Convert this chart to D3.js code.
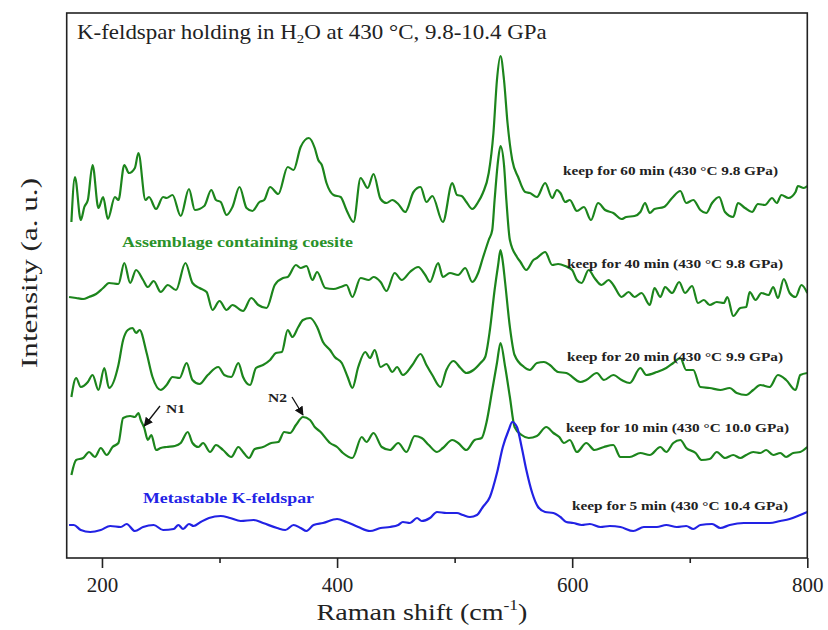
<!DOCTYPE html>
<html>
<head>
<meta charset="utf-8">
<script src="https://cdn.jsdelivr.net/npm/d3@7"></script>
<style>
  html, body { margin: 0; padding: 0; background: #ffffff; }
  svg { display: block; font-family: "Liberation Serif", "Times New Roman", serif; }
</style>
</head>
<body>
<svg id="chart" width="828" height="630"></svg>
<script>
// ---- Data (Raman shift in cm-1, intensity in arbitrary stacked units) ----
const xTicks = [200, 400, 600, 800];
const xMinorTicks = [300, 500, 700];

const s60x = [174,177,182,185,188,192,197,201,205,211,214,219,223,228,231,237,240,246,252,255,260,267,274,279,287,293,297,301,306,311,317,323,328,334,338,343,350,358,363,369,376,381,384,387,391,397,403,408,414,420,426,431,437,442,447,452,458,465,471,476,481,490,498,502,506,510,515,520,524,529,533,536,539,542,545,549,554,560,564,570,577,583,587,590,594,598,604,610,616,622,628,635,642,646,653,658,662,666,670,678,685,692,697,703,709,714,719,725,730,737,741,747,753,758,764,770,774,778,784,790,792,797,800];
const s60y = [336,381,338,351,358,393,350,361,339,361,358,393,385,390,405,358,361,349,361,360,363,342,369,348,352,368,358,356,343,351,371,350,347,356,358,371,364,391,388,411,420,410,398,393,375,363,361,348,336,380,370,384,359,355,358,354,346,366,371,356,362,336,375,363,362,356,349,356,365,385,425,478,502,478,435,398,381,366,365,361,375,360,368,365,356,358,347,351,338,355,348,345,339,341,342,346,355,345,349,351,360,367,355,358,348,345,355,361,346,341,355,350,346,354,353,360,355,363,360,366,372,370,372];

const s40x = [172,178,184,189,195,201,206,214,219,224,229,235,239,244,250,256,263,271,277,283,289,294,300,306,311,320,327,333,340,347,354,358,365,369,374,379,383,390,397,403,408,413,420,427,431,437,442,449,455,462,469,475,479,486,490,496,503,509,515,520,524,529,532,534,537,539,542,544,547,553,556,561,567,570,577,583,588,594,600,604,608,614,619,625,631,635,642,648,653,659,666,670,675,679,685,691,696,702,707,712,717,723,729,732,737,743,748,751,756,761,767,771,775,780,785,790,795,800];
const s40y = [261,260,259,261,264,270,275,274,295,275,288,278,271,277,266,273,268,295,275,270,266,248,257,248,253,247,260,253,250,273,280,281,293,290,292,278,286,270,269,271,273,261,280,278,281,276,267,285,278,286,291,283,276,295,281,285,283,290,276,285,300,318,328,358,398,412,393,358,318,301,296,288,298,300,306,293,294,292,288,278,275,288,280,273,278,273,261,266,261,265,253,270,261,271,265,276,265,272,255,258,253,256,255,261,242,250,251,266,258,265,263,271,260,279,265,261,273,265];

const s20x = [174,178,182,188,192,197,202,206,214,218,222,226,229,232,238,243,250,255,260,266,272,277,283,290,299,304,310,316,320,326,331,337,343,348,353,358,362,367,371,377,383,388,394,398,404,409,413,418,424,428,432,437,442,447,451,456,464,471,476,481,488,493,499,505,510,516,522,526,530,534,537,539,541,543,547,551,559,564,570,576,581,588,595,607,612,621,627,635,642,649,658,663,672,680,686,692,697,703,709,717,726,734,740,748,754,760,768,775,782,790,794,800];
const s20y = [161,180,171,176,183,168,190,170,193,218,228,230,225,228,205,181,168,173,181,180,195,178,174,183,191,183,181,195,181,173,190,193,198,205,206,228,221,231,238,240,231,216,208,201,195,181,170,191,206,200,208,191,194,186,191,183,193,204,193,183,171,188,197,190,185,188,195,201,228,268,293,308,296,275,231,203,191,188,195,196,193,186,185,176,178,185,178,183,178,175,190,183,186,190,195,200,188,188,171,170,168,170,165,163,168,173,171,183,178,168,183,185];

const s10x = [174,178,184,189,194,199,204,209,214,218,224,228,231,233,236,239,242,246,250,255,262,267,273,277,282,286,292,297,303,310,316,320,325,330,337,344,350,355,360,365,371,377,381,386,394,400,405,413,421,425,431,438,445,452,459,466,472,478,485,490,498,503,510,517,523,527,532,536,539,543,547,551,557,563,570,578,584,589,593,598,604,612,619,627,635,641,649,658,666,675,680,686,692,697,705,710,717,723,730,737,743,748,754,760,765,771,777,782,788,794,800];
const s10y = [83,98,100,106,101,110,103,111,115,140,142,141,145,138,130,118,123,108,110,111,112,115,126,115,111,115,106,113,108,101,111,106,100,109,111,115,116,126,125,133,141,138,131,126,115,111,105,100,121,116,125,111,108,115,106,122,120,113,106,110,118,115,108,118,120,135,168,195,215,191,161,131,123,120,122,131,125,121,115,118,106,115,108,111,113,101,101,105,103,111,106,115,118,110,105,98,99,106,100,103,100,103,106,105,108,103,105,101,105,106,111];

const s5x = [172,176,182,190,199,207,216,221,228,235,244,252,261,265,269,274,278,284,291,301,309,318,329,337,349,356,363,369,374,380,388,400,408,418,428,437,445,452,456,462,468,472,479,485,493,502,507,513,519,524,530,536,541,546,549,553,557,561,566,571,577,584,590,595,601,608,615,624,632,641,652,661,672,680,689,697,703,709,719,726,734,746,757,768,777,785,794,800];
const s5y = [33,33,28,26,28,32,31,34,27,31,33,28,29,33,29,34,32,36,40,42,40,37,38,35,30,28,33,30,27,33,35,39,36,31,27,30,31,33,36,35,40,37,40,46,45,45,43,41,43,51,61,85,111,128,136,131,111,88,65,51,46,45,41,36,35,33,34,31,32,31,27,31,31,33,31,32,29,33,34,30,33,35,35,35,37,39,43,46];

const seriesLabels = [
  "keep for 60 min (430 \u00B0C 9.8 GPa)",
  "keep for 40 min (430 \u00B0C 9.8 GPa)",
  "keep for 20 min (430 \u00B0C 9.9 GPa)",
  "keep for 10 min (430 \u00B0C 10.0 GPa)",
  "keep for 5 min (430 \u00B0C 10.4 GPa)"
];
const seriesColors = ["#1c851c", "#1c851c", "#1c851c", "#1c851c", "#2222e4"];

// ---- Layout ----
const svg = d3.select("#chart");
const L = 66.7, R = 807.3, T = 13, B = 558;

const x = d3.scaleLinear().domain([170, 800]).range([L, R]);
const y = d3.scaleLinear().domain([0, 545]).range([B, T]);

const defs = svg.append("defs");
defs.append("clipPath").attr("id", "clip")
  .append("rect").attr("x", L).attr("y", T).attr("width", R - L).attr("height", B - T);

// horizontally stretch a text element (anchored at its start/middle x) to a target width
function fitWidth(sel, target, ax) {
  const w = sel.node().getComputedTextLength();
  const s = target / w;
  sel.attr("transform", `translate(${ax},0) scale(${s},1) translate(${-ax},0)`);
}

const seriesX = [s60x, s40x, s20x, s10x, s5x];
const seriesY = [s60y, s40y, s20y, s10y, s5y];

const line = d3.line().x(d => x(d[0])).y(d => y(d[1])).curve(d3.curveMonotoneX);

const g = svg.append("g").attr("clip-path", "url(#clip)");
seriesX.forEach((xs, i) => {
  const pts = xs.map((v, j) => [v, seriesY[i][j]]);
  g.append("path").datum(pts)
    .attr("d", line)
    .attr("fill", "none")
    .attr("stroke", seriesColors[i])
    .attr("stroke-width", 2.2)
    .attr("stroke-linejoin", "round");
});

// ---- Frame and axes ----
svg.append("rect").attr("x", L).attr("y", T).attr("width", R - L).attr("height", B - T)
  .attr("fill", "none").attr("stroke", "#222").attr("stroke-width", 1.6);

const xAxis = d3.axisBottom(x).tickValues(xTicks).tickSize(10).tickPadding(9).tickFormat(d3.format("d"));
const ax = svg.append("g").attr("transform", `translate(0,${B})`).call(xAxis);
ax.select(".domain").remove();
ax.selectAll(".tick line").attr("stroke", "#222").attr("stroke-width", 1.6);
ax.selectAll(".tick text").attr("font-family", "Liberation Serif").attr("font-size", 21).attr("fill", "#222");

const xMinor = d3.axisBottom(x).tickValues(xMinorTicks).tickSize(5).tickFormat("");
const axm = svg.append("g").attr("transform", `translate(0,${B})`).call(xMinor);
axm.select(".domain").remove();
axm.selectAll(".tick line").attr("stroke", "#222").attr("stroke-width", 1.6);

// Axis titles
const xtx = 422;
const xt = svg.append("text").attr("x", xtx).attr("y", 620)
  .attr("text-anchor", "middle").attr("font-size", 24).attr("fill", "#222");
xt.append("tspan").text("Raman shift (cm");
xt.append("tspan").attr("font-size", 15).attr("dy", -10).text("-1");
xt.append("tspan").attr("dy", 10).text(")");
fitWidth(xt, 211, xtx);

svg.append("text").attr("transform", "translate(37,273) rotate(-90)")
  .attr("text-anchor", "middle").attr("font-size", 23).attr("fill", "#222")
  .attr("textLength", 190).attr("lengthAdjust", "spacingAndGlyphs")
  .text("Intensity (a. u.)");

// Title
const tt = svg.append("text").attr("x", 77).attr("y", 39.5).attr("font-size", 20).attr("fill", "#222");
tt.append("tspan").text("K-feldspar holding in H");
tt.append("tspan").attr("font-size", 13).attr("dy", 4).text("2");
tt.append("tspan").attr("dy", -4).text("O at 430 \u00B0C, 9.8-10.4 GPa");
fitWidth(tt, 470, 77);

// Series labels
const labelPos = [[563, 175, 215], [567, 268, 216], [567, 361, 216], [566, 432, 223], [572, 510, 216]];
seriesLabels.forEach((t, i) => {
  svg.append("text").attr("x", labelPos[i][0]).attr("y", labelPos[i][1])
    .attr("font-size", 13.5).attr("font-weight", "bold").attr("fill", "#222")
    .attr("textLength", labelPos[i][2]).attr("lengthAdjust", "spacingAndGlyphs")
    .text(t);
});

// Group labels
svg.append("text").attr("x", 122).attr("y", 247).attr("font-size", 15).attr("font-weight", "bold")
  .attr("fill", "#2a922a").attr("textLength", 231).attr("lengthAdjust", "spacingAndGlyphs")
  .text("Assemblage containing coesite");
svg.append("text").attr("x", 143).attr("y", 503).attr("font-size", 15).attr("font-weight", "bold")
  .attr("fill", "#2323e6").attr("textLength", 171).attr("lengthAdjust", "spacingAndGlyphs")
  .text("Metastable K-feldspar");

// Peak annotations N1, N2
defs.append("marker").attr("id", "arrow").attr("viewBox", "0 0 10 10").attr("refX", 9).attr("refY", 5)
  .attr("markerWidth", 7).attr("markerHeight", 7).attr("orient", "auto")
  .append("path").attr("d", "M0,0 L10,5 L0,10 z").attr("fill", "#111");

const annotations = [
  { label: "N1", cm: 236, val: 130, tx: 166, ty: 413, lx: 160, ly: 406 },
  { label: "N2", cm: 371, val: 141, tx: 268, ty: 402, lx: 292, ly: 397 }
];
annotations.forEach(a => {
  svg.append("line").attr("x1", a.lx).attr("y1", a.ly)
    .attr("x2", x(a.cm)).attr("y2", y(a.val) - 2)
    .attr("stroke", "#111").attr("stroke-width", 1.3).attr("marker-end", "url(#arrow)");
  svg.append("text").attr("x", a.tx).attr("y", a.ty).attr("font-size", 13.5).attr("font-weight", "bold")
    .attr("fill", "#222").attr("textLength", 19).attr("lengthAdjust", "spacingAndGlyphs").text(a.label);
});
</script>
</body>
</html>
